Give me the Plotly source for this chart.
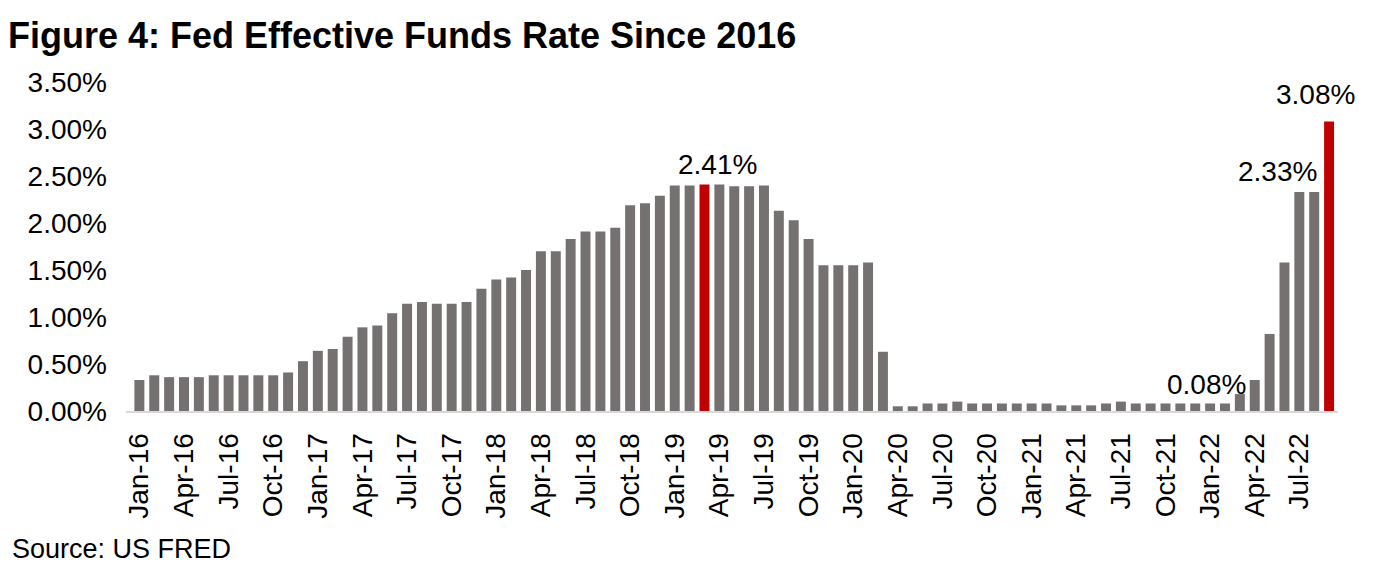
import plotly.graph_objects as go

months = [f"{m}-{y}" for y in range(16, 23) for m in
          ["Jan", "Feb", "Mar", "Apr", "May", "Jun", "Jul", "Aug", "Sep", "Oct", "Nov", "Dec"]][:81]

rates = [
    # 2016
    0.33, 0.38, 0.36, 0.36, 0.36, 0.38, 0.38, 0.38, 0.38, 0.38, 0.41, 0.53,
    # 2017
    0.64, 0.66, 0.79, 0.89, 0.91, 1.04, 1.14, 1.16, 1.14, 1.14, 1.16, 1.30,
    # 2018
    1.40, 1.42, 1.50, 1.70, 1.70, 1.83, 1.91, 1.91, 1.95, 2.19, 2.21, 2.29,
    # 2019
    2.40, 2.40, 2.41, 2.41, 2.39, 2.39, 2.40, 2.13, 2.03, 1.83, 1.55, 1.55,
    # 2020
    1.55, 1.58, 0.63, 0.05, 0.05, 0.08, 0.08, 0.10, 0.08, 0.08, 0.08, 0.08,
    # 2021
    0.08, 0.08, 0.06, 0.06, 0.06, 0.08, 0.10, 0.08, 0.08, 0.08, 0.08, 0.08,
    # 2022
    0.08, 0.08, 0.18, 0.33, 0.82, 1.58, 2.33, 2.33, 3.08,
]

highlight_months = ["Mar-19", "Sep-22"]
labelled_months = ["Mar-19", "Jan-22", "Jul-22", "Sep-22"]
tick_months = months[::3]
y_ticks = [0, 0.5, 1.0, 1.5, 2.0, 2.5, 3.0, 3.5]

GREY = "#767171"
RED = "#C00000"
FONT = "Liberation Sans, Arial, sans-serif"

# the page body has an 8px default margin, so the figure is sized to fit inside it
W, H = 1365, 563

colors = [RED if m in highlight_months else GREY for m in months]

fig = go.Figure(go.Bar(
    x=months, y=rates, marker=dict(color=colors, line=dict(width=0)),
    hoverinfo="x+y",
))

label_shift = {"Mar-19": (13, 20), "Jan-22": (-4, 19), "Jul-22": (-22, 20), "Sep-22": (-14, 27)}
for m in labelled_months:
    v = rates[months.index(m)]
    dx, dy = label_shift[m]
    fig.add_annotation(x=m, y=v, text=f"{v:.2f}%", showarrow=False,
                       xanchor="center", yanchor="middle", xshift=dx, yshift=dy,
                       font=dict(family=FONT, size=28, color="#000000"))

fig.add_annotation(text="Source: US FRED", xref="paper", yref="paper",
                   x=-116 / 1212, y=-(550 - 411.5) / 330, xanchor="left", yanchor="middle",
                   showarrow=False, font=dict(family=FONT, size=27, color="#000000"))

fig.update_layout(
    width=W, height=H,
    margin=dict(l=118, r=35, t=73.5, b=159.5, pad=0),
    paper_bgcolor="white", plot_bgcolor="white",
    bargap=0.33,
    showlegend=False,
    font=dict(family=FONT, size=28, color="#000000"),
    title=dict(text="<b>Figure 4: Fed Effective Funds Rate Since 2016</b>",
               xref="container", yref="container", x=0, y=1 - 27 / H,
               xanchor="left", yanchor="middle",
               font=dict(family=FONT, size=36, color="#000000")),
    xaxis=dict(type="category", range=[-0.9, 80.6], tickmode="array",
               tickvals=tick_months, ticktext=tick_months, tickangle=-90,
               showline=True, linecolor="#d9d9d9", linewidth=2,
               ticks="", showgrid=False, zeroline=False,
               ticklabelstandoff=9,
               tickfont=dict(family=FONT, size=28, color="#000000")),
    yaxis=dict(range=[0, 3.5], tickmode="array", tickvals=y_ticks,
               ticktext=[f"{t:.2f}%" for t in y_ticks],
               showgrid=False, zeroline=False, showline=False, ticks="",
               ticklabelstandoff=18,
               tickfont=dict(family=FONT, size=28, color="#000000")),
)

fig.write_html("out.html")
